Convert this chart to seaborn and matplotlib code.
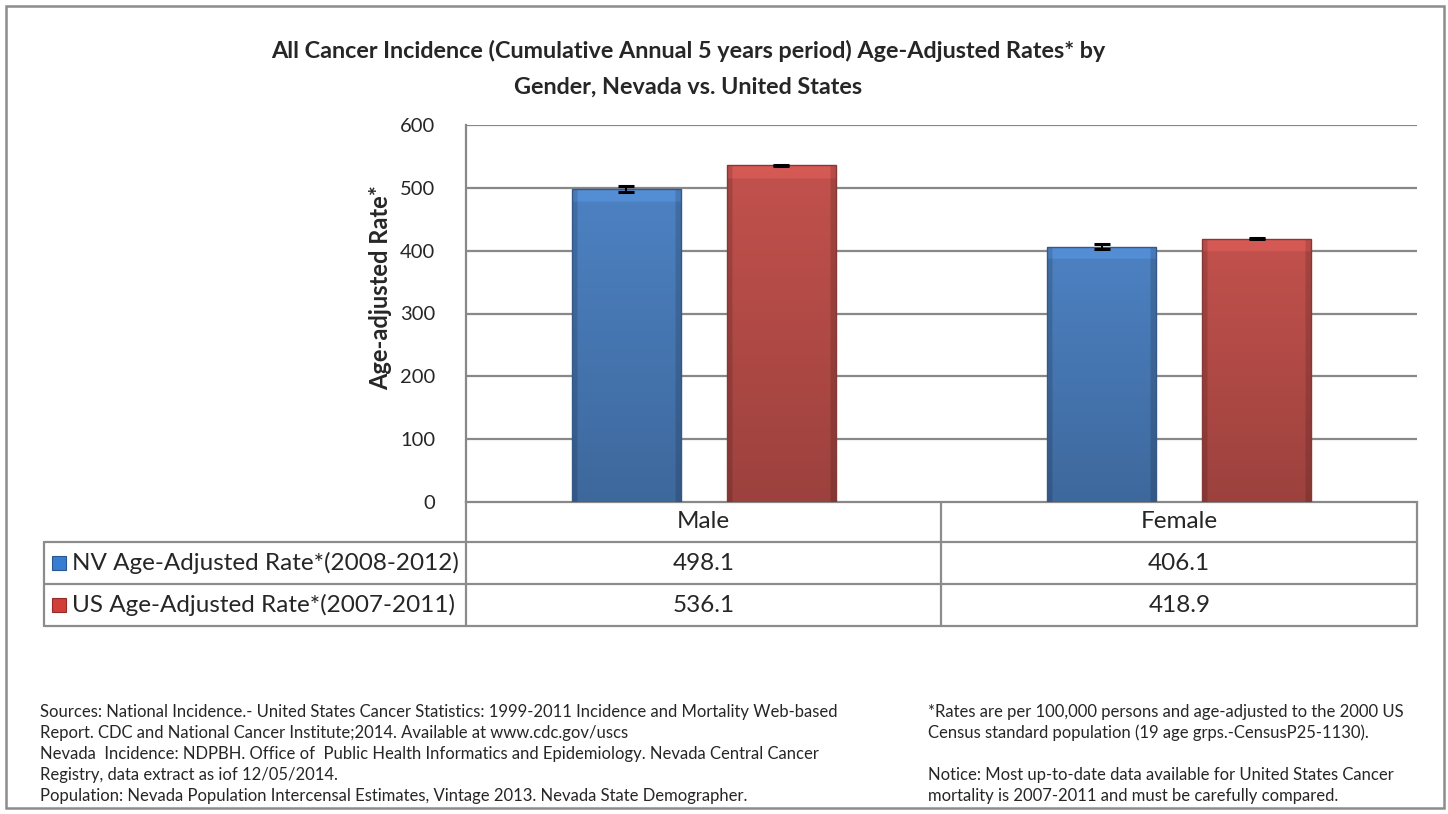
import numpy as np
import pandas as pd
import matplotlib
matplotlib.use("Agg")
import matplotlib.pyplot as plt
import seaborn as sns
from matplotlib.lines import Line2D
from matplotlib.patches import Rectangle
from matplotlib.transforms import blended_transform_factory
from matplotlib.colors import to_rgb

# --- data ---
genders = ["Male", "Female"]
series_names = ["NV Age-Adjusted Rate*(2008-2012)", "US Age-Adjusted Rate*(2007-2011)"]
nv_rates = [498.1, 406.1]
us_rates = [536.1, 418.9]
nv_err = [4.5, 4.0]   # approx. CI half-widths
us_err = [0.8, 0.8]
y_ticks = [0, 100, 200, 300, 400, 500, 600]

title = ("All Cancer Incidence (Cumulative Annual 5 years period) Age-Adjusted Rates* by\n"
         "Gender, Nevada vs. United States")
ylabel = "Age-adjusted Rate*"
sources_lines = [
    "Sources: National Incidence.- United States Cancer Statistics: 1999-2011 Incidence and Mortality Web-based",
    "Report. CDC and National Cancer Institute;2014. Available at www.cdc.gov/uscs",
    "Nevada  Incidence: NDPBH. Office of  Public Health Informatics and Epidemiology. Nevada Central Cancer",
    "Registry, data extract as iof 12/05/2014.",
    "Population: Nevada Population Intercensal Estimates, Vintage 2013. Nevada State Demographer.",
]
notes_lines = [
    "*Rates are per 100,000 persons and age-adjusted to the 2000 US",
    "Census standard population (19 age grps.-CensusP25-1130).",
    "",
    "Notice: Most up-to-date data available for United States Cancer",
    "mortality is 2007-2011 and must be carefully compared.",
]

colors = ["#387DD2", "#D23E38"]

df = pd.DataFrame({
    "gender": genders * 2,
    "series": [series_names[0]] * 2 + [series_names[1]] * 2,
    "rate": nv_rates + us_rates,
})

sns.set_theme(style="white")
plt.rcParams["font.family"] = ["Lato", "DejaVu Sans"]

W, H = 1448, 814
fig = plt.figure(figsize=(W / 100, H / 100), dpi=100)


def fx(x):
    return x / W


def fy(y):
    return 1 - y / H


# plot area in pixels: x 466..1417, y 125..502
ax = fig.add_axes([fx(466), fy(502), fx(1417) - fx(466), fy(125) - fy(502)])

sns.barplot(data=df, x="gender", y="rate", hue="series", order=genders,
            hue_order=series_names, palette=colors, width=0.652, gap=0.298,
            errorbar=None, legend=False, ax=ax, zorder=3, linewidth=0)

ax.set_ylim(0, 600)
ax.set_yticks(y_ticks)
ax.set_xlim(-0.5, 1.5)
xlim = ax.get_xlim()

# grid + spines
for v in y_ticks[1:]:
    ax.axhline(v, color="#888888", lw=1.6, zorder=1)
for s in ["top", "right"]:
    ax.spines[s].set_visible(False)
ax.spines["left"].set_color("#888888")
ax.spines["left"].set_linewidth(1.6)
ax.spines["bottom"].set_color("#888888")
ax.spines["bottom"].set_linewidth(1.6)
ax.tick_params(axis="y", length=0, pad=22, labelsize=14.5)
ax.tick_params(axis="x", length=0, labelbottom=False)
ax.set_xlabel("")
ax.set_ylabel(ylabel, fontsize=17, fontweight="bold")
ax.yaxis.set_label_coords(-0.078, 0.568)

# shading on bars (bevel-like gradient)
bars = [p for p in ax.patches if isinstance(p, Rectangle) and p.get_height() > 0]
for p in bars:
    x0, w, h = p.get_x(), p.get_width(), p.get_height()
    base = np.array(to_rgb(p.get_facecolor()))
    ny, nx = 200, 60
    t = np.linspace(1, 0, ny)[:, None]          # 1 at top
    u = np.linspace(0, 1, nx)[None, :]
    shade = 0.82 + 0.2 * t
    side = np.minimum(u, 1 - u)
    shade = shade * np.where(side < 0.05, 0.85, 1.0)
    top_px = 12.0 / (h * 377 / 600)
    shade = shade + np.where(t > 1 - top_px, 0.1, 0.0)
    img = np.clip(base[None, None, :] * shade[:, :, None], 0, 1)
    im = ax.imshow(img, extent=[x0, x0 + w, 0, h], aspect="auto", zorder=4,
                   interpolation="bilinear")
    im.set_clip_path(p)
    ax.add_patch(Rectangle((x0, 0), w, h, fill=False, edgecolor=base * 0.7,
                           lw=1.0, zorder=5))
ax.set_xlim(xlim)
ax.set_ylim(0, 600)

# error bars at the bar centres
errs = nv_err + us_err
vals = nv_rates + us_rates
centers = sorted([p.get_x() + p.get_width() / 2 for p in bars])
order = [0, 2, 1, 3]  # NV male, US male, NV female, US female in x order
for k, c in zip(order, centers):
    ax.errorbar(c, vals[k], yerr=errs[k], fmt="none", ecolor="black",
                elinewidth=1.5, capsize=6, capthick=2.2, zorder=6)

# --- data table under the axis ---
line_kw = dict(color="#8C8C8C", lw=1.6, transform=fig.transFigure)
rows_y = [502, 542, 584, 626]
for y in rows_y[1:]:
    fig.add_artist(Line2D([fx(44), fx(1417)], [fy(y), fy(y)], **line_kw))
for x, y0 in [(44, 542), (466, 502), (941.5, 502), (1417, 502)]:
    fig.add_artist(Line2D([fx(x), fx(x)], [fy(y0), fy(626)], **line_kw))

bt = blended_transform_factory(ax.transData, fig.transFigure)
for i, g in enumerate(genders):
    fig.text(i, fy(522), g, transform=bt, ha="center", va="center", fontsize=17.5)
    fig.text(i, fy(563), f"{nv_rates[i]:.1f}", transform=bt, ha="center",
             va="center", fontsize=17.5)
    fig.text(i, fy(605), f"{us_rates[i]:.1f}", transform=bt, ha="center",
             va="center", fontsize=17.5)

for name, col, yc in zip(series_names, colors, [563, 605]):
    fig.add_artist(Rectangle((fx(52), fy(yc + 7)), fx(14), 14 / H,
                             transform=fig.transFigure, facecolor=col,
                             edgecolor=np.array(to_rgb(col)) * 0.7, lw=0.8))
    fig.text(fx(72), fy(yc), name, ha="left", va="center", fontsize=17.5)

# title
fig.text(fx(688), fy(69), title, ha="center", va="center", fontsize=16.8,
         fontweight="bold", linespacing=1.85)

# footer notes
for i, s in enumerate(sources_lines):
    fig.text(fx(40), fy(712 + 21 * i), s, ha="left", va="center", fontsize=12)
for i, s in enumerate(notes_lines):
    fig.text(fx(928), fy(712 + 21 * i), s, ha="left", va="center", fontsize=12)

# outer frame
fig.add_artist(Rectangle((fx(6), fy(808)), fx(1438), (808 - 6) / H,
                         transform=fig.transFigure, fill=False,
                         edgecolor="#8C8C8C", lw=1.8))

fig.savefig("out.png", dpi=100)
